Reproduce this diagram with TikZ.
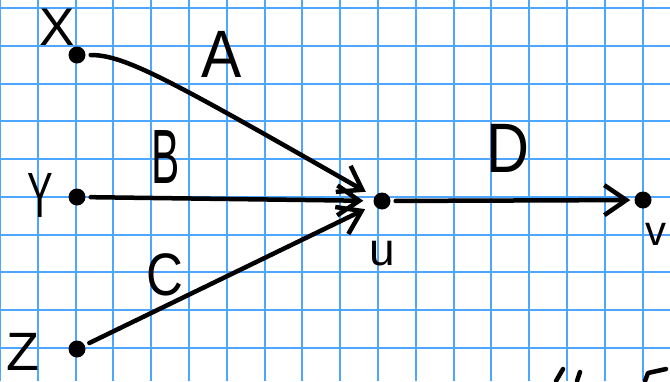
\documentclass[tikz,border=0pt]{standalone}
\usepackage{fontspec}
\setmainfont{Liberation Sans}
\usetikzlibrary{arrows.meta}
\definecolor{gridblue}{RGB}{77,166,255}
\begin{document}
\begin{tikzpicture}[x=1pt,y=-1pt,
  gridline/.style={gridblue,line width=2pt},
  dot/.style={circle,fill=black,inner sep=0pt,minimum size=17pt},
  lbl/.style={inner sep=0pt,text=black},
  edge/.style={line width=4.5pt,line cap=round,shorten >=10pt,shorten <=5pt,
    -{Straight Barb[length=22pt,width=30pt,line width=4.5pt]}},
  stroke/.style={line width=4.5pt,line cap=round,line join=round}
  ]
\fill[white] (0,0) rectangle (670,381);
\useasboundingbox (0,0) rectangle (670,381);
\clip (0,0) rectangle (670,381);
\foreach \i in {0,...,17} \draw[gridline] ({-0.1+37.8*\i},0) -- ++(0,381);
\foreach \j in {0,...,10} \draw[gridline] (0,{8.3+37.7*\j}) -- ++(670,0);

\node[dot] (x) at (77,55) {};
\node[dot] (y) at (77,197) {};
\node[dot] (z) at (77,349) {};
\node[dot] (u) at (382,201) {};
\node[dot] (v) at (643,200) {};

\draw[edge] (x) .. controls (125,55) and (170,80) .. (u);
\draw[edge] (y) -- (u);
\draw[edge] (z) -- (u);
\draw[edge,shorten >=4pt] (u) -- (v);

\node[lbl,font=\fontsize{53}{55}\selectfont] (lx) at (57,27) {X};
\node[lbl,font=\fontsize{67}{70}\selectfont] (la) at (222,54) {\scalebox{0.9}[1]{A}};
\node[lbl,font=\fontsize{64}{66}\selectfont] (ly) at (40,195) {\scalebox{0.6}[1]{Y}};
\node[lbl,font=\fontsize{77}{80}\selectfont] (lb) at (166,157) {\scalebox{0.55}[1]{B}};
\node[lbl,font=\fontsize{60}{62}\selectfont] (lc) at (165,275) {\scalebox{0.85}[1]{C}};
\node[lbl,font=\fontsize{54}{56}\selectfont] (lz) at (23,352) {Z};
\node[lbl,font=\fontsize{70}{72}\selectfont] (ld) at (508,148) {\scalebox{0.85}[1]{D}};
\node[lbl,font=\fontsize{46}{48}\selectfont] (lu) at (382,254) {u};
\node[lbl,font=\fontsize{42}{44}\selectfont] (lv) at (656,234) {v};

\draw[stroke] (563,369) -- (556,381);
\draw[stroke] (580,372) -- (577,381);
\draw[stroke] (645,381) -- (648,373) -- (666,369);
\end{tikzpicture}
\end{document}
